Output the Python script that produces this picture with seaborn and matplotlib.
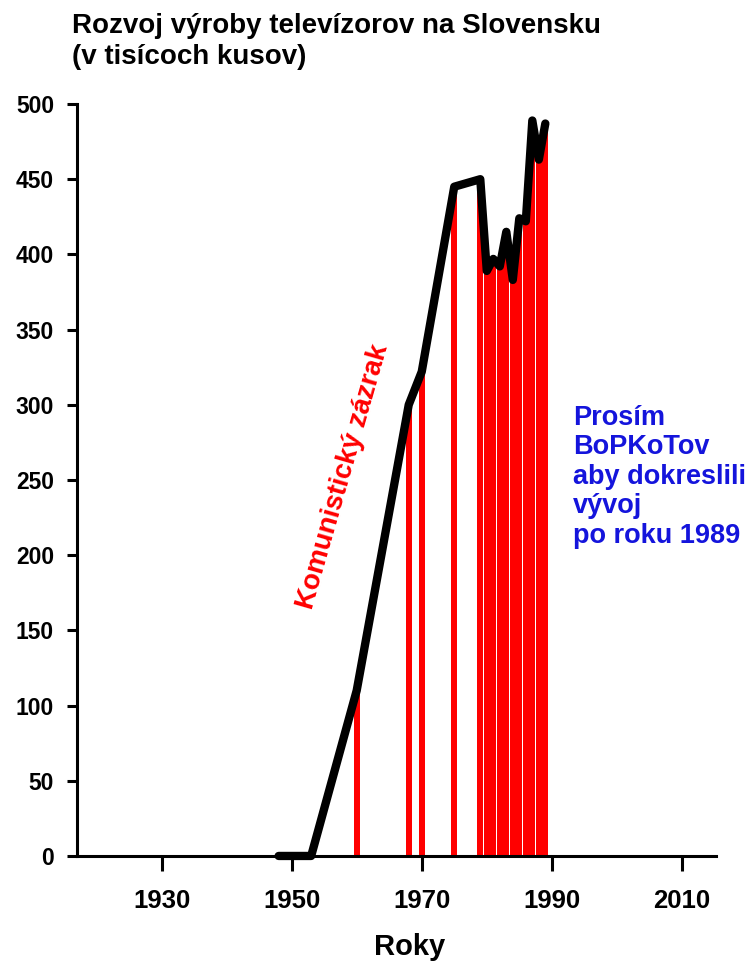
import matplotlib
matplotlib.use("Agg")
import matplotlib.pyplot as plt
import seaborn as sns
import pandas as pd

# Television production in Slovakia (thousands of units)
bar_years = [1960, 1968, 1970, 1975, 1979, 1980, 1981, 1982, 1983, 1984,
             1985, 1986, 1987, 1988, 1989]
bar_values = [110, 300, 322, 445, 450, 389, 397, 392, 415, 383,
              424, 422, 489, 463, 487]

line_years = [1948, 1953] + bar_years
line_values = [0, 0] + bar_values

x_ticks = [1930, 1950, 1970, 1990, 2010]
y_ticks = [0, 50, 100, 150, 200, 250, 300, 350, 400, 450, 500]

title_text = "Rozvoj výroby televízorov na Slovensku\n(v tisícoch kusov)"
x_label = "Roky"
red_note = "Komunistický zázrak"
blue_note = "Prosím\nBoPKoTov\naby dokreslili\nvývoj\npo roku 1989"

sns.set_theme(style="ticks")
plt.rcParams["font.family"] = ["Liberation Sans", "DejaVu Sans"]
plt.rcParams["font.weight"] = "bold"
for key in ("text.color", "axes.labelcolor", "xtick.color", "ytick.color",
            "axes.edgecolor"):
    plt.rcParams[key] = "black"

bars = pd.DataFrame({"year": bar_years, "value": bar_values})
line = pd.DataFrame({"year": line_years, "value": line_values})

fig = plt.figure(figsize=(7.55, 9.61), dpi=100)
ax = fig.add_axes([0.102, 0.1093, 0.846, 0.7825])

sns.barplot(data=bars, x="year", y="value", native_scale=True, width=0.95,
            color="#ff0000", saturation=1, linewidth=0, edgecolor="none",
            ax=ax, zorder=2)
sns.lineplot(data=line, x="year", y="value", sort=False, estimator=None,
             color="black", linewidth=6, ax=ax, zorder=3, clip_on=False,
             solid_capstyle="round", solid_joinstyle="round")

ax.set_xlim(1917, 2015.2)
ax.set_ylim(0, 500)
ax.set_xticks(x_ticks)
ax.set_yticks(y_ticks)
ax.set_xticklabels([str(t) for t in x_ticks], fontsize=18.5, fontweight="bold")
ax.set_yticklabels([str(t) for t in y_ticks], fontsize=16.5, fontweight="bold")
ax.tick_params(axis="x", length=11, width=2.2, pad=13)
ax.tick_params(axis="y", length=7.5, width=2.2, pad=9)

sns.despine(ax=ax)
for side in ("left", "bottom"):
    ax.spines[side].set_linewidth(2.2)

ax.set_xlabel(x_label, fontsize=21, fontweight="bold")
ax.set_ylabel("")
ax.xaxis.set_label_coords(0.52, -0.103)

fig.text(72 / 755, 1 - 13 / 961, title_text, ha="left", va="top",
         fontsize=20, fontweight="bold", linespacing=1.25)

ax.text(1957.9, 252, red_note, color="#ff0000", fontsize=20,
        fontweight="bold", rotation=74, ha="center", va="center",
        rotation_mode="anchor")

fig.text(573 / 755, 1 - 405 / 961, blue_note, color="#1414dc", ha="left",
         va="top", fontsize=19.5, fontweight="bold", linespacing=1.17)

fig.savefig("out.png", dpi=100)
